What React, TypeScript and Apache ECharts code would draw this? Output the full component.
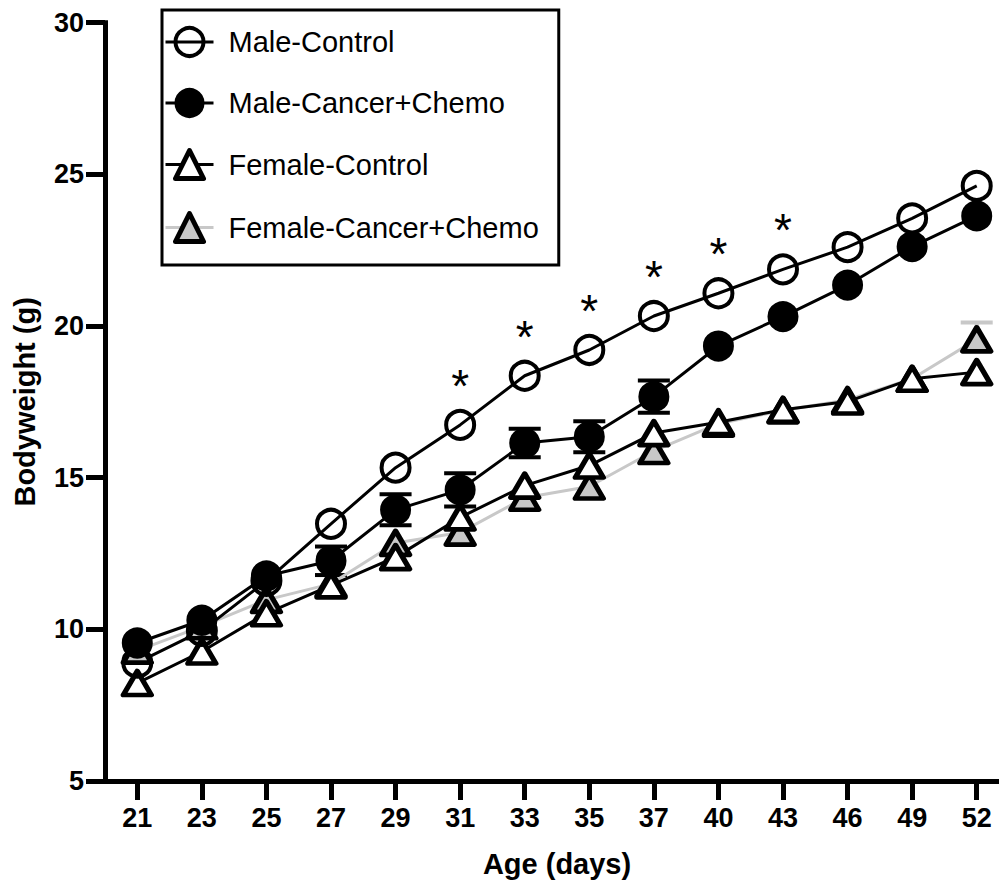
import React, { useEffect, useRef } from 'react';
import * as echarts from 'echarts';

const FONT = '"Liberation Sans", Arial, Helvetica, sans-serif';

const ages = ['21', '23', '25', '27', '29', '31', '33', '35', '37', '40', '43', '46', '49', '52'];
const yTicks = [5, 10, 15, 20, 25, 30];

const maleControl = [8.9, 9.95, 11.6, 13.48, 15.33, 16.74, 18.36, 19.21, 20.33, 21.08, 21.87, 22.6, 23.55, 24.62];
const maleCancer = [9.55, 10.3, 11.76, 12.26, 13.94, 14.6, 16.14, 16.35, 17.67, 19.34, 20.31, 21.35, 22.62, 23.63];
const maleCancerErr = [0, 0, 0, 0.47, 0.51, 0.55, 0.47, 0.51, 0.53, 0, 0, 0, 0, 0];
const femaleControl = [8.23, 9.27, 10.53, 11.45, 12.38, 13.69, 14.74, 15.4, 16.47, 16.83, 17.24, 17.51, 18.26, 18.48];
const femaleCancer = [9.3, 10.1, 10.97, 11.5, 12.85, 13.19, 14.34, 14.71, 15.88, 16.78, 17.22, 17.56, 18.26, 19.56];
const femaleCancerErrUp = [0, 0, 0, 0, 0, 0, 0, 0, 0, 0, 0, 0, 0, 0.56];
const significant = [false, false, false, false, false, true, true, true, true, true, true, false, false, false];

const GRAY = '#c8c8c8';

function errRender(color: string) {
  return (params: any, api: any) => {
    const i = api.value(0);
    const v = api.value(1);
    const up = api.value(2);
    const dn = api.value(3);
    const c = api.coord([i, v]);
    const t = api.coord([i, v + up]);
    const b = api.coord([i, v - dn]);
    const hw = 16;
    const style = { stroke: color, lineWidth: 4 };
    const children: any[] = [
      { type: 'line', shape: { x1: c[0], y1: t[1], x2: c[0], y2: b[1] }, style },
    ];
    if (up > 0) children.push({ type: 'line', shape: { x1: c[0] - hw, y1: t[1], x2: c[0] + hw, y2: t[1] }, style });
    if (dn > 0) children.push({ type: 'line', shape: { x1: c[0] - hw, y1: b[1], x2: c[0] + hw, y2: b[1] }, style });
    return { type: 'group', children };
  };
}

export default function App() {
  const ref = useRef<HTMLDivElement>(null);
  useEffect(() => {
    const chart = echarts.init(ref.current!, null, { renderer: 'svg' });
    const axisLine = { show: true, lineStyle: { color: '#000', width: 5, cap: 'square' } };
    const axisTick = { show: true, length: 19, lineStyle: { color: '#000', width: 5 } };
    const tickLabel = { fontSize: 27, fontWeight: 'bold', color: '#000', fontFamily: FONT };
    const nameStyle = { fontSize: 29, fontWeight: 'bold', color: '#000', fontFamily: FONT };

    const option: any = {
      animation: false,
      textStyle: { fontFamily: FONT },
      grid: { left: 105, right: 0, top: 22.7, bottom: 101.7 },
      legend: {
        orient: 'vertical',
        left: 162,
        top: 10,
        padding: [16, 20, 21, 2],
        itemWidth: 48,
        itemHeight: 35,
        itemGap: 30,
        borderColor: '#000',
        borderWidth: 3,
        backgroundColor: '#fff',
        selectedMode: false,
        textStyle: { fontSize: 29, color: '#000', fontFamily: FONT, padding: [0, 0, 0, 10] },
        data: [
          { name: 'Male-Control', itemStyle: { borderWidth: 4 }, lineStyle: { width: 3 } },
          { name: 'Male-Cancer+Chemo', itemStyle: { borderWidth: 2 }, lineStyle: { width: 3 } },
          { name: 'Female-Control', itemStyle: { borderWidth: 5 }, lineStyle: { width: 3 } },
          { name: 'Female-Cancer+Chemo', itemStyle: { borderWidth: 5 }, lineStyle: { width: 3 } },
        ],
      },
      xAxis: {
        type: 'category',
        data: ages,
        boundaryGap: true,
        axisLine,
        axisTick: { ...axisTick, alignWithLabel: true },
        axisLabel: { ...tickLabel, margin: 23 },
        splitLine: { show: false },
        name: 'Age (days)',
        nameLocation: 'middle',
        nameGap: 68,
        nameTextStyle: nameStyle,
      },
      yAxis: {
        type: 'value',
        min: yTicks[0],
        max: yTicks[yTicks.length - 1],
        interval: 5,
        axisLine,
        axisTick,
        axisLabel: { ...tickLabel, margin: 21 },
        splitLine: { show: false },
        name: 'Bodyweight (g)',
        nameLocation: 'middle',
        nameGap: 66,
        nameTextStyle: nameStyle,
      },
      series: [
        {
          type: 'custom',
          name: 'fcc-err',
          silent: true,
          renderItem: errRender(GRAY),
          encode: { x: 0, y: 1 },
          data: ages.map((a, i) => [i, femaleCancer[i], femaleCancerErrUp[i], 0]),
          z: 2,
        },
        {
          name: 'Female-Cancer+Chemo',
          type: 'line',
          data: femaleCancer,
          symbol: 'triangle',
          symbolSize: [28, 24],
          showAllSymbol: true,
          silent: true,
          lineStyle: { color: GRAY, width: 3 },
          itemStyle: { color: GRAY, borderColor: '#000', borderWidth: 5, borderJoin: 'round' },
          z: 2,
        },
        {
          name: 'Female-Control',
          type: 'line',
          data: femaleControl,
          symbol: 'triangle',
          symbolSize: [28, 24],
          showAllSymbol: true,
          silent: true,
          lineStyle: { color: '#000', width: 3 },
          itemStyle: { color: '#fff', borderColor: '#000', borderWidth: 5, borderJoin: 'round' },
          z: 2,
        },
        {
          type: 'custom',
          name: 'mcc-err',
          silent: true,
          renderItem: errRender('#000'),
          encode: { x: 0, y: 1 },
          data: ages.map((a, i) => [i, maleCancer[i], maleCancerErr[i], maleCancerErr[i]]),
          z: 2,
        },
        {
          name: 'Male-Cancer+Chemo',
          type: 'line',
          data: maleCancer,
          symbol: 'circle',
          symbolSize: 29,
          showAllSymbol: true,
          silent: true,
          lineStyle: { color: '#000', width: 3 },
          itemStyle: { color: '#000', borderColor: '#000', borderWidth: 2 },
          z: 2,
        },
        {
          name: 'Male-Control',
          type: 'line',
          data: maleControl.map((v, i) => (significant[i] ? { value: v, label: { show: true } } : v)),
          symbol: 'circle',
          symbolSize: 28,
          showAllSymbol: true,
          silent: true,
          lineStyle: { color: '#000', width: 3 },
          itemStyle: { color: 'rgba(0,0,0,0)', borderColor: '#000', borderWidth: 4 },
          label: {
            show: false,
            formatter: '*',
            position: 'top',
            distance: 0,
            fontSize: 46,
            color: '#000',
            fontFamily: FONT,
          },
          z: 2,
        },
      ],
    };
    chart.setOption(option);
    return () => chart.dispose();
  }, []);
  return (
    <div style={{ position: 'absolute', left: 0, top: 0, width: 999, height: 883, overflow: 'hidden' }}>
      <div ref={ref} style={{ position: 'absolute', left: 0, top: 0, width: 1009, height: 883 }} />
    </div>
  );
}
